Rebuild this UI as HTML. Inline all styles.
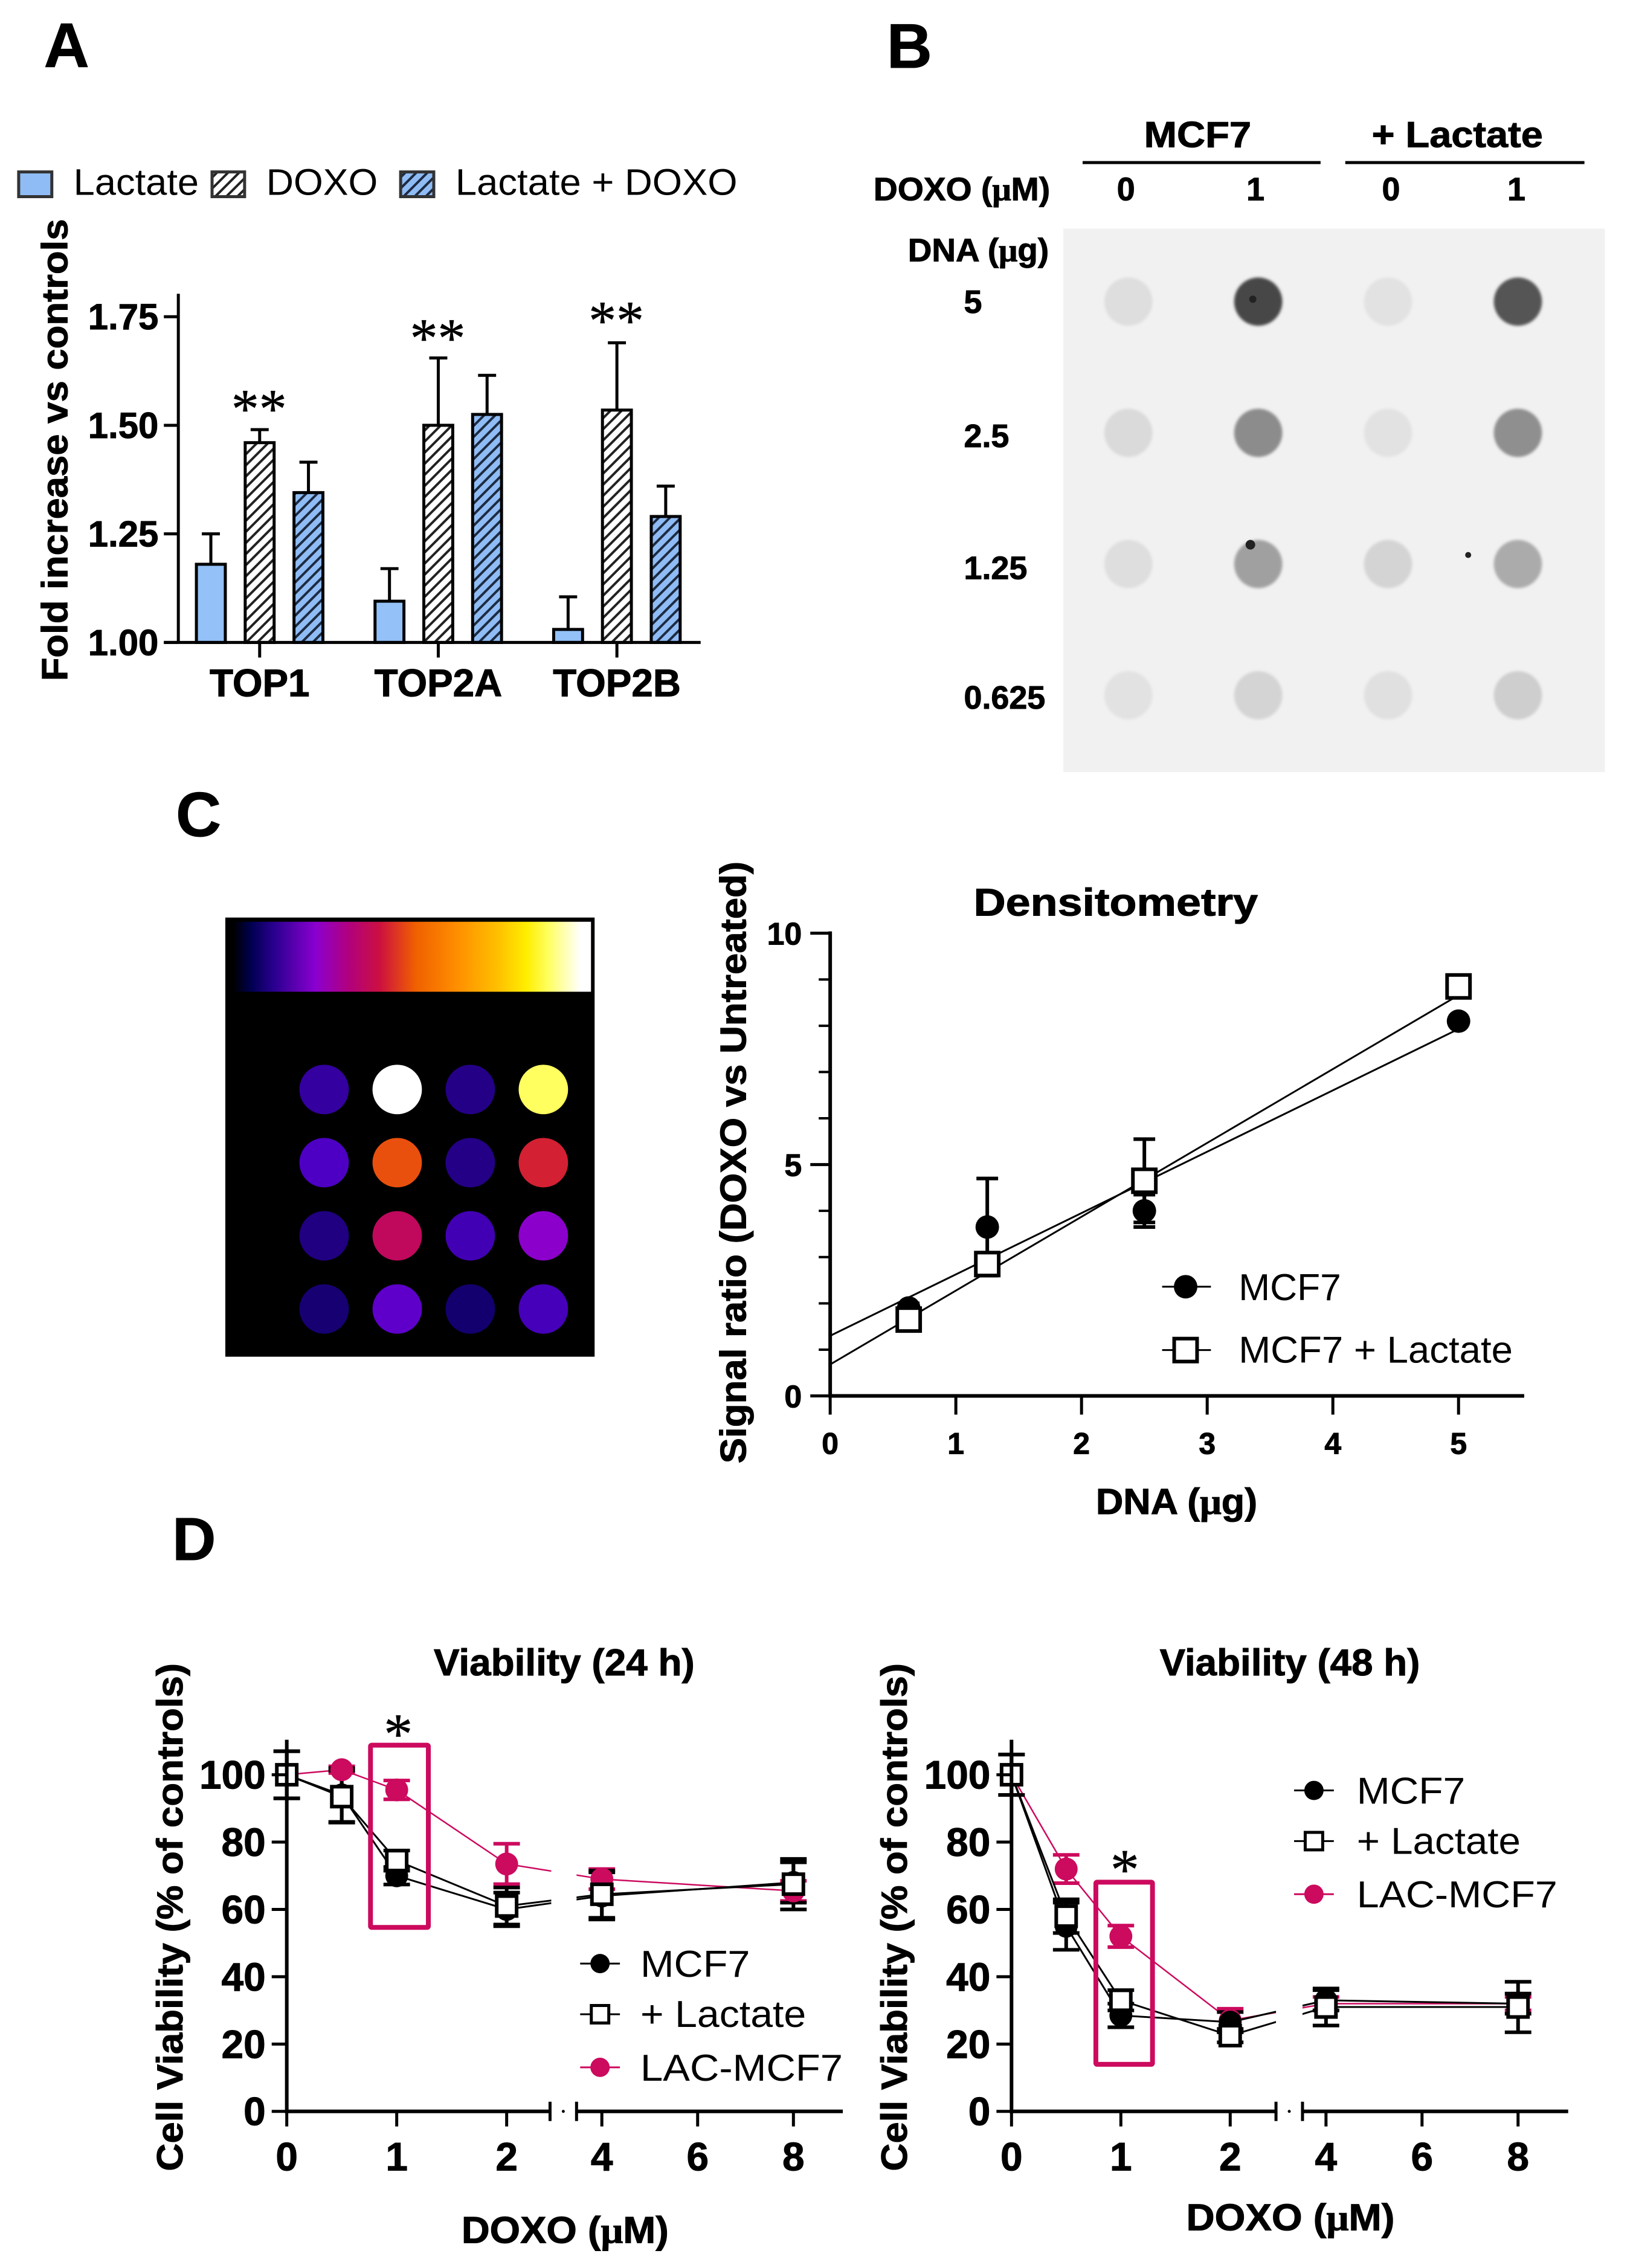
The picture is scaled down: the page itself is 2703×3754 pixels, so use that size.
<!DOCTYPE html>
<html lang="en">
<head>
<meta charset="utf-8">
<title>Lactate and DOXO multi-panel figure</title>
<style>
html,body{margin:0;padding:0;background:#fff}
svg{display:block}
text{font-family:"Liberation Sans",Arial,sans-serif;fill:#000}
.b,text[font-weight="bold"]{font-weight:bold;stroke:#000;stroke-width:1}
.mu{font-family:"Liberation Serif",serif}
</style>
</head>
<body>
<svg id="fig" xmlns="http://www.w3.org/2000/svg" width="2703" height="3754" viewBox="0 0 2703 3754">
<defs>
<pattern id="hatch-white" width="13" height="13" patternUnits="userSpaceOnUse" patternTransform="rotate(45)">
<rect width="13" height="13" fill="#fff"/><rect width="4" height="13" fill="#222"/>
</pattern>
<pattern id="hatch-blue" width="13" height="13" patternUnits="userSpaceOnUse" patternTransform="rotate(45)">
<rect width="13" height="13" fill="#8fbcf5"/><rect width="4" height="13" fill="#1d2a40"/>
</pattern>
<linearGradient id="lut" x1="0" x2="1" y1="0" y2="0">
<stop offset="0" stop-color="#000"/><stop offset=".05" stop-color="#000050"/><stop offset=".115" stop-color="#2a0090"/>
<stop offset=".23" stop-color="#8a00d0"/><stop offset=".32" stop-color="#b00080"/><stop offset=".41" stop-color="#cc1040"/>
<stop offset=".51" stop-color="#f06000"/><stop offset=".63" stop-color="#ff9000"/><stop offset=".74" stop-color="#ffc000"/>
<stop offset=".82" stop-color="#ffee00"/><stop offset=".88" stop-color="#ffff60"/><stop offset=".97" stop-color="#fff"/><stop offset="1" stop-color="#fff"/>
</linearGradient>
<filter id="soft" x="-20%" y="-20%" width="140%" height="140%"><feGaussianBlur stdDeviation="2.5"/></filter>
<clipPath id="gap-left"><rect x="0" y="2600" width="915" height="1000"/><rect x="957" y="2600" width="800" height="1000"/></clipPath>
<clipPath id="gap-right"><rect x="1500" y="2600" width="618" height="1000"/><rect x="2162" y="2600" width="541" height="1000"/></clipPath>
</defs>
<g transform="scale(.9972 .9985)">

<text class="b" x="73" y="111" font-size="104">A</text>
<text class="b" x="1472" y="112" font-size="104">B</text>
<text class="b" x="292" y="1386" font-size="104">C</text>
<text class="b" x="286" y="2586" font-size="100">D</text>

<!-- Panel A static text -->
<g>
<rect x="31" y="285" width="55" height="41" fill="#8fbcf5" stroke="#333" stroke-width="5"/>
<text x="122" y="323" font-size="61" textLength="208" lengthAdjust="spacingAndGlyphs">Lactate</text>
<rect x="352" y="285" width="54" height="41" fill="url(#hatch-white)" stroke="#333" stroke-width="5"/>
<text x="442" y="323" font-size="61" textLength="185" lengthAdjust="spacingAndGlyphs">DOXO</text>
<rect x="665" y="285" width="55" height="41" fill="url(#hatch-blue)" stroke="#333" stroke-width="5"/>
<text x="756" y="323" font-size="61" textLength="468" lengthAdjust="spacingAndGlyphs">Lactate + DOXO</text>
</g>
<text class="b" transform="translate(112,1129) rotate(-90)" font-size="60" textLength="766" lengthAdjust="spacingAndGlyphs">Fold increase vs controls</text>
<g id="panelA"></g>

<!-- Panel B static text -->
<g id="panelB">
<rect x="1765" y="379" width="899" height="901" fill="#f1f1f1"/>
</g>
<g transform="translate(3,0)">
<text class="b" x="1896" y="244" font-size="60" textLength="178" lengthAdjust="spacingAndGlyphs">MCF7</text>
<text class="b" x="2274" y="244" font-size="60" textLength="284" lengthAdjust="spacingAndGlyphs">+ Lactate</text>
<rect x="1794" y="267" width="395" height="5" fill="#000"/>
<rect x="2230" y="267" width="397" height="5" fill="#000"/>
<text class="b" x="1447" y="332" font-size="54" textLength="293" lengthAdjust="spacingAndGlyphs">DOXO (<tspan class="mu">μ</tspan>M)</text>
<text class="b" x="1866" y="332" font-size="54" text-anchor="middle">0</text>
<text class="b" x="2081" y="332" font-size="54" text-anchor="middle">1</text>
<text class="b" x="2306" y="332" font-size="54" text-anchor="middle">0</text>
<text class="b" x="2514" y="332" font-size="54" text-anchor="middle">1</text>
<text class="b" x="1504" y="433" font-size="54" textLength="234" lengthAdjust="spacingAndGlyphs">DNA (<tspan class="mu">μ</tspan>g)</text>
<text class="b" x="1597" y="519" font-size="54">5</text>
<text class="b" x="1597" y="741" font-size="54">2.5</text>
<text class="b" x="1597" y="960" font-size="54">1.25</text>
<text class="b" x="1597" y="1175" font-size="54">0.625</text>
</g>

<!-- Panel C heatmap -->
<g id="heat">
<rect x="374" y="1521" width="613" height="728" fill="#000"/>
<rect x="387" y="1528" width="594" height="116" fill="url(#lut)"/>
</g>

<!-- Panel C densitometry text -->
<text class="b" x="1616" y="1518" font-size="64" textLength="472" lengthAdjust="spacingAndGlyphs">Densitometry</text>
<text class="b" transform="translate(1238,2426) rotate(-90)" font-size="60" textLength="998" lengthAdjust="spacingAndGlyphs">Signal ratio (DOXO vs Untreated)</text>
<text class="b" x="1819" y="2510" font-size="60" textLength="268" lengthAdjust="spacingAndGlyphs">DNA (<tspan class="mu">μ</tspan>g)</text>
<text x="2056" y="2155" font-size="62" textLength="170" lengthAdjust="spacingAndGlyphs">MCF7</text>
<text x="2056" y="2259" font-size="62" textLength="455" lengthAdjust="spacingAndGlyphs">MCF7 + Lactate</text>
<g id="panelC" transform="translate(0,2)"></g>

<!-- Panel D text -->
<g transform="translate(0,4)">
<text class="b" x="720" y="2773" font-size="62" textLength="433" lengthAdjust="spacingAndGlyphs">Viability (24 h)</text>
<text class="b" transform="translate(303,3595) rotate(-90)" font-size="60" textLength="842" lengthAdjust="spacingAndGlyphs">Cell Viability (% of controls)</text>
<text class="b" x="766" y="3714" font-size="62" textLength="344" lengthAdjust="spacingAndGlyphs">DOXO (<tspan class="mu">μ</tspan>M)</text>
<text x="1063" y="3273" font-size="62" textLength="182" lengthAdjust="spacingAndGlyphs">MCF7</text>
<text x="1063" y="3356" font-size="62" textLength="275" lengthAdjust="spacingAndGlyphs">+ Lactate</text>
<text x="1063" y="3445" font-size="62" textLength="336" lengthAdjust="spacingAndGlyphs">LAC-MCF7</text>
<g id="panelD1"></g>

<text class="b" x="1925" y="2773" font-size="62" textLength="432" lengthAdjust="spacingAndGlyphs">Viability (48 h)</text>
<text class="b" transform="translate(1505,3595) rotate(-90)" font-size="60" textLength="842" lengthAdjust="spacingAndGlyphs">Cell Viability (% of controls)</text>
<text class="b" x="1969" y="3693" font-size="62" textLength="346" lengthAdjust="spacingAndGlyphs">DOXO (<tspan class="mu">μ</tspan>M)</text>
<text x="2252" y="2986" font-size="62" textLength="180" lengthAdjust="spacingAndGlyphs">MCF7</text>
<text x="2252" y="3069" font-size="62" textLength="272" lengthAdjust="spacingAndGlyphs">+ Lactate</text>
<text x="2252" y="3158" font-size="62" textLength="333" lengthAdjust="spacingAndGlyphs">LAC-MCF7</text>
<g id="panelD2"></g>
</g>
</g>
</svg>

<script>
/* Panel A data */
const topoCategories = ['TOP1', 'TOP2A', 'TOP2B'];
const topoLactate = [1.18, 1.095, 1.03];
const topoDoxo = [1.46, 1.50, 1.535];
const topoBoth = [1.345, 1.525, 1.29];
const topoLactateErr = [0.07, 0.075, 0.075];
const topoDoxoErr = [0.03, 0.155, 0.155];
const topoBothErr = [0.07, 0.09, 0.07];
const topoTicks = ['1.00', '1.25', '1.50', '1.75'];
const topoStars = [1.555, 1.718, 1.758];

/* Panel B data: grey level of each dot, rows 5 to 0.625 ug */
const blotGrey = [
  [222, 70, 226, 84],
  [218, 140, 226, 143],
  [222, 160, 212, 171],
  [226, 212, 224, 206]
];
const blotSpecks = [[0, 1, -9, -4, 6], [2, 1, -13, -32, 8], [2, 2, 133, -15, 5]];

/* Panel C heatmap data: position on the colour bar */
const heatValues = [
  [0.13, 1.00, 0.105, 0.88],
  [0.165, 0.49, 0.105, 0.43],
  [0.10, 0.37, 0.15, 0.235],
  [0.085, 0.185, 0.08, 0.155]
];
const lutPositions = [0, 0.05, 0.115, 0.17, 0.23, 0.32, 0.41, 0.51, 0.63, 0.74, 0.82, 0.88, 0.97];
const lutColors = [[0,0,0],[0,0,80],[42,0,144],[80,0,200],[138,0,208],[176,0,128],[204,16,64],[240,96,0],[255,144,0],[255,192,0],[255,238,0],[255,255,96],[255,255,255]];

/* Panel C densitometry data */
const dnaDoses = [0.625, 1.25, 2.5, 5];
const ratioMcf7 = [1.9, 3.65, 4.0, 8.1];
const ratioMcf7Err = [0.1, 1.05, 0.35, 0];
const ratioLactate = [1.65, 2.85, 4.65, 8.85];
const ratioLactateErr = [0.1, 0.2, 0.9, 0];
const fitX = [0, 5];
const fitMcf7 = [1.3, 7.93];
const fitLactate = [0.68, 8.66];
const densXTicks = [0, 1, 2, 3, 4, 5];
const densYTicks = [0, 5, 10];
const densYMinorTicks = [1, 2, 3, 4, 6, 7, 8, 9];

/* Panel D data */
const doxoDoses = [0, 0.5, 1, 2, 4, 8];
const viaXTicks = [0, 1, 2, 4, 6, 8];
const viaYTicks = [0, 20, 40, 60, 80, 100];
const via24Mcf7 = [100, 94, 70, 60, 64, 68];
const via24Mcf7Err = [7, 8, 2.6, 5, 7, 6];
const via24Lactate = [100, 93.5, 74.5, 61, 64.5, 67.5];
const via24LactateErr = [7, 7.7, 3, 5.5, 7, 7.5];
const via24Lac = [100, 101.5, 95.5, 73.5, 69, 65.5];
const via24LacErr = [0, 1, 2.8, 6, 3, 3];
const via48Mcf7 = [100, 55, 28.5, 26.5, 33, 32];
const via48Mcf7Err = [6, 7, 3.5, 3, 3, 3];
const via48Lactate = [100, 58, 33, 22.5, 31, 31];
const via48LactateErr = [6, 5, 3, 2, 5.5, 7.5];
const via48Lac = [100, 72, 52, 27, 32, 32];
const via48LacErr = [0, 4.2, 3.2, 3.5, 2, 2];

const NS = 'http://www.w3.org/2000/svg';
const PINK = '#cc0a5e';

function add(parent, tag, attrs, name) {
  const node = document.createElementNS(NS, tag);
  for (const k in attrs) node.setAttribute(k, attrs[k]);
  
  
  parent.appendChild(node);
  return node;
}
function line(p, x1, y1, x2, y2, w, c, name) {
  return add(p, 'line', {x1, y1, x2, y2, stroke: c || '#000', 'stroke-width': w}, name);
}
function label(p, str, x, y, size, anchor, bold, name) {
  const attrs = {x, y, 'font-size': size, 'text-anchor': anchor || 'middle'};
  if (bold) attrs['font-weight'] = 'bold';
  const t = add(p, 'text', attrs, name);
  t.textContent = str;
  return t;
}
function star(p, str, cx, cy, size, name) {
  const t = add(p, 'text', {x: cx, y: cy + size * 0.47, 'font-size': size, 'text-anchor': 'middle', style: 'font-family:"Liberation Serif",serif;stroke:#000;stroke-width:.6'}, name);
  t.textContent = str;
  return t;
}
function errBar(p, x, yTop, yBot, capW, w, c, name) {
  line(p, x, yTop, x, yBot, w, c, name + '-stem');
  line(p, x - capW, yTop, x + capW, yTop, w, c, name + '-cap-top');
  line(p, x - capW, yBot, x + capW, yBot, w, c, name + '-cap-bottom');
}

/* ---------- Panel A ---------- */
(function () {
  const g = document.getElementById('panelA');
  const yA = v => 1065 - (v - 1) * 720;
  const catX = i => 431 + i * 296.5;
  const barW = 48;
  const series = [
    {vals: topoLactate, errs: topoLactateErr, fill: '#93c1f8', off: -81, key: 'lactate'},
    {vals: topoDoxo, errs: topoDoxoErr, fill: 'url(#hatch-white)', off: 0, key: 'doxo'},
    {vals: topoBoth, errs: topoBothErr, fill: 'url(#hatch-blue)', off: 81, key: 'lactate-doxo'}
  ];
  series.forEach(s => {
    s.vals.forEach((v, i) => {
      const cx = catX(i) + s.off;
      const hi = yA(v + s.errs[i]);
      line(g, cx, hi, cx, yA(v), 5, '#000', 'error-bar-' + s.key + '-' + topoCategories[i]);
      line(g, cx - 15, hi, cx + 15, hi, 5, '#000', 'error-cap-' + s.key + '-' + topoCategories[i]);
      add(g, 'rect', {x: cx - barW / 2, y: yA(v), width: barW, height: yA(1) - yA(v), fill: s.fill, stroke: '#000', 'stroke-width': 5}, 'bar-' + s.key + '-' + topoCategories[i]);
    });
  });
  line(g, 296, 487, 296, 1067, 5, '#000', 'y-axis');
  line(g, 272, 1065, 1163, 1065, 5, '#000', 'x-axis');
  topoTicks.forEach(t => {
    const y = yA(parseFloat(t));
    line(g, 272, y, 296, y, 5, '#000', 'y-tick-' + t);
    label(g, t, 263, y + 21, 60, 'end', true, 'y-tick-label-' + t);
  });
  topoCategories.forEach((c, i) => {
    line(g, catX(i), 1065, catX(i), 1090, 5, '#000', 'x-tick-' + c);
    label(g, c, catX(i), 1154, 64, 'middle', true, 'x-tick-label-' + c);
    star(g, '**', catX(i) - 1, yA(topoStars[i]), 92, 'significance-' + c);
  });
})();

/* ---------- Panel B ---------- */
(function () {
  const g = document.getElementById('panelB');
  const colX = c => 1873 + c * 215.5;
  const rowY = r => 500 + r * 217.5;
  blotGrey.forEach((row, r) => row.forEach((v, c) => {
    add(g, 'circle', {cx: colX(c), cy: rowY(r), r: 40, fill: 'rgb(' + v + ',' + v + ',' + v + ')', filter: 'url(#soft)'}, 'blot-dot-r' + r + '-c' + c);
  }));
  blotSpecks.forEach((s, i) => {
    add(g, 'circle', {cx: colX(s[1]) + s[2], cy: rowY(s[0]) + s[3], r: s[4], fill: '#222'}, 'blot-speck-' + i);
  });
})();

/* ---------- Panel C heatmap ---------- */
function lutColor(v) {
  let i = 0;
  while (i < lutPositions.length - 2 && v > lutPositions[i + 1]) i++;
  const f = Math.min(1, (v - lutPositions[i]) / (lutPositions[i + 1] - lutPositions[i]));
  const rgb = lutColors[i].map((a, k) => Math.round(a + (lutColors[i + 1][k] - a) * f));
  return 'rgb(' + rgb.join(',') + ')';
}
(function () {
  const g = document.getElementById('heat');
  heatValues.forEach((row, r) => row.forEach((v, c) => {
    add(g, 'circle', {cx: 538 + c * 121.3, cy: 1806 + r * 121.3, r: 41, fill: lutColor(v)}, 'heatmap-dot-r' + r + '-c' + c);
  }));
})();

/* ---------- Marker helpers ---------- */
function circleMark(p, x, y, r, c, name) {
  return add(p, 'circle', {cx: x, cy: y, r, fill: c}, name);
}
function squareMark(p, x, y, s, w, name) {
  return add(p, 'rect', {x: x - s / 2, y: y - s / 2, width: s, height: s, fill: '#fff', stroke: '#000', 'stroke-width': w}, name);
}

/* ---------- Panel C densitometry ---------- */
(function () {
  const g = document.getElementById('panelC');
  const x = v => 1378 + v * 208.6;
  const y = v => 2312 - v * 76.7;
  line(g, 1378, 1542, 1378, 2315, 6, '#000', 'y-axis');
  line(g, 1375, 2312, 2530, 2312, 6, '#000', 'x-axis');
  densYTicks.forEach(t => {
    line(g, 1345, y(t), 1378, y(t), 5, '#000', 'y-tick-' + t);
    label(g, String(t), 1331, y(t) + 19, 52, 'end', true, 'y-tick-label-' + t);
  });
  densYMinorTicks.forEach(t => {
    line(g, 1359, y(t), 1378, y(t), 4, '#000', 'y-minor-tick-' + t);
  });
  densXTicks.forEach(t => {
    line(g, x(t), 2312, x(t), 2343, 5, '#000', 'x-tick-' + t);
    label(g, String(t), x(t), 2408, 50, 'middle', true, 'x-tick-label-' + t);
  });
  dnaDoses.forEach((d, i) => {
    if (ratioMcf7Err[i] > 0) errBar(g, x(d), y(ratioMcf7[i] + ratioMcf7Err[i]), y(ratioMcf7[i] - ratioMcf7Err[i]), 18, 6, '#000', 'mcf7-error-' + d);
    if (ratioLactateErr[i] > 0) errBar(g, x(d), y(ratioLactate[i] + ratioLactateErr[i]), y(ratioLactate[i] - ratioLactateErr[i]), 18, 6, '#000', 'lactate-error-' + d);
  });
  line(g, x(fitX[0]), y(fitMcf7[0]), x(fitX[1]), y(fitMcf7[1]), 3, '#000', 'mcf7-fit-line');
  line(g, x(fitX[0]), y(fitLactate[0]), x(fitX[1]), y(fitLactate[1]), 3, '#000', 'lactate-fit-line');
  dnaDoses.forEach((d, i) => {
    circleMark(g, x(d), y(ratioMcf7[i]), 19.5, '#000', 'mcf7-point-' + d);
  });
  dnaDoses.forEach((d, i) => {
    squareMark(g, x(d), y(ratioLactate[i]), 38, 6, 'lactate-point-' + d);
  });
  line(g, 1929, 2131, 2010, 2131, 3, '#000', 'legend-line-mcf7');
  circleMark(g, 1968, 2131, 19.5, '#000', 'legend-marker-mcf7');
  line(g, 1929, 2236, 2010, 2236, 3, '#000', 'legend-line-lactate');
  squareMark(g, 1968, 2236, 38, 6, 'legend-marker-lactate');
})();

/* ---------- Panel D ---------- */
function viability(cfg) {
  const g = document.getElementById(cfg.id);
  const x = v => v <= 2 ? cfg.x0 + v * cfg.u1 : cfg.x4 + (v - 4) * cfg.u2;
  const y = v => 3496 - v * 5.58;
  const series = [
    {vals: cfg.lac, errs: cfg.lacErr, color: PINK, w: 2.5, key: 'lac-mcf7', kind: 'c'},
    {vals: cfg.mcf7, errs: cfg.mcf7Err, color: '#000', w: 3, key: 'mcf7', kind: 'c'},
    {vals: cfg.lact, errs: cfg.lactErr, color: '#000', w: 3, key: 'lactate', kind: 's'}
  ];
  series.forEach(s => {
    const pts = doxoDoses.map((d, i) => x(d) + ',' + y(s.vals[i])).join(' ');
    add(g, 'polyline', {points: pts, fill: 'none', stroke: s.color, 'stroke-width': s.w, 'clip-path': 'url(#' + cfg.clip + ')'}, s.key + '-line');
    doxoDoses.forEach((d, i) => {
      if (s.errs[i] > 0) errBar(g, x(d), y(s.vals[i] + s.errs[i]), y(s.vals[i] - s.errs[i]), 22, 6, s.color, s.key + '-error-' + d);
    });
  });
  series.forEach(s => {
    doxoDoses.forEach((d, i) => {
      if (s.kind === 'c') circleMark(g, x(d), y(s.vals[i]), 19, s.color, s.key + '-point-' + d);
      else squareMark(g, x(d), y(s.vals[i]), 33, 6, s.key + '-point-' + d);
    });
  });
  line(g, cfg.x0, 2880, cfg.x0, 3499, 6, '#000', 'y-axis');
  line(g, cfg.x0 - 3, 3496, cfg.b1, 3496, 6, '#000', 'x-axis-left-segment');
  line(g, cfg.b2, 3496, cfg.xEnd, 3496, 6, '#000', 'x-axis-right-segment');
  line(g, cfg.b1, 3480, cfg.b1, 3512, 5, '#000', 'axis-break-left');
  line(g, cfg.b2, 3480, cfg.b2, 3512, 5, '#000', 'axis-break-right');
  circleMark(g, (cfg.b1 + cfg.b2) / 2, 3496, 2.5, '#000', 'axis-break-dot');
  viaYTicks.forEach(t => {
    line(g, cfg.x0 - 25, y(t), cfg.x0, y(t), 5, '#000', 'y-tick-' + t);
    label(g, String(t), cfg.x0 - 35, y(t) + 23, 66, 'end', true, 'y-tick-label-' + t);
  });
  viaXTicks.forEach(t => {
    line(g, x(t), 3496, x(t), 3521, 5, '#000', 'x-tick-' + t);
    label(g, String(t), x(t), 3594, 66, 'middle', true, 'x-tick-label-' + t);
  });
  add(g, 'rect', {x: cfg.box[0], y: cfg.box[1], width: cfg.box[2], height: cfg.box[3], fill: 'none', stroke: PINK, 'stroke-width': 8, rx: 2}, 'highlight-box');
  star(g, '*', cfg.star[0], cfg.star[1], 96, 'significance-star');
  const lx = cfg.legend[0], lw = 33;
  line(g, lx - lw, cfg.legend[1], lx + lw, cfg.legend[1], 3, '#000', 'legend-line-mcf7');
  circleMark(g, lx, cfg.legend[1], 16, '#000', 'legend-marker-mcf7');
  line(g, lx - lw, cfg.legend[2], lx + lw, cfg.legend[2], 3, '#000', 'legend-line-lactate');
  squareMark(g, lx, cfg.legend[2], 29, 5, 'legend-marker-lactate');
  line(g, lx - lw, cfg.legend[3], lx + lw, cfg.legend[3], 3, PINK, 'legend-line-lac-mcf7');
  circleMark(g, lx, cfg.legend[3], 16, PINK, 'legend-marker-lac-mcf7');
}
viability({
  id: 'panelD1', clip: 'gap-left', x0: 476, u1: 182.5, x4: 999, u2: 79.5, b1: 913, b2: 957, xEnd: 1399,
  mcf7: via24Mcf7, mcf7Err: via24Mcf7Err, lact: via24Lactate, lactErr: via24LactateErr, lac: via24Lac, lacErr: via24LacErr,
  box: [615, 2889, 96, 302], star: [661, 2857], legend: [996, 3251, 3335, 3423]
});
viability({
  id: 'panelD2', clip: 'gap-right', x0: 1679, u1: 181.5, x4: 2201, u2: 79.7, b1: 2118, b2: 2162, xEnd: 2603,
  mcf7: via48Mcf7, mcf7Err: via48Mcf7Err, lact: via48Lactate, lactErr: via48LactateErr, lac: via48Lac, lacErr: via48LacErr,
  box: [1819, 3116, 94, 302], star: [1867, 3082], legend: [2181, 2964, 3048, 3136]
});
</script>
</body>
</html>
